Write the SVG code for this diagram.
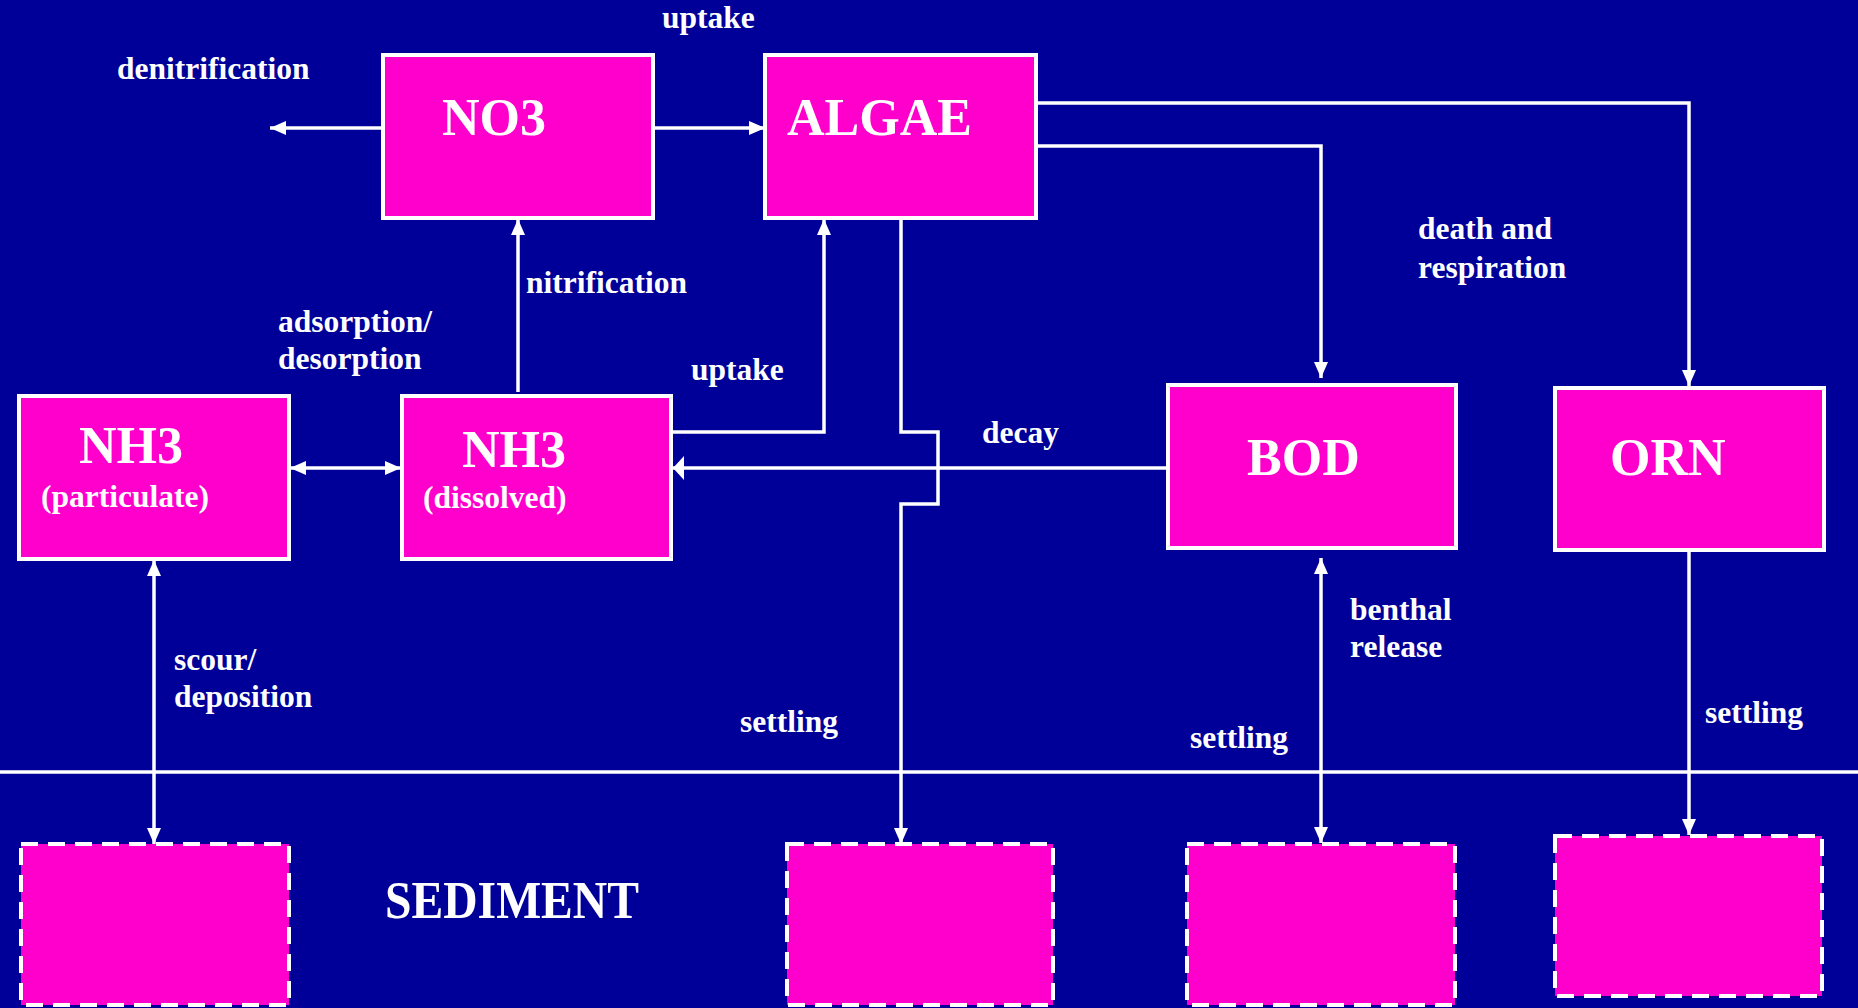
<svg xmlns="http://www.w3.org/2000/svg" width="1858" height="1008" viewBox="0 0 1858 1008">
<style>
.bg{fill:#000099}
.box{fill:#FF00CC;stroke:#FFFFFF;stroke-width:4}
.sed{fill:#FF00CC;stroke:#FFFFFF;stroke-width:4;stroke-dasharray:17 10}
.big{font-family:"Liberation Serif","Times New Roman",serif;font-weight:bold;font-size:52px;fill:#FFFFFF}
.lbl{font-family:"Liberation Serif","Times New Roman",serif;font-weight:bold;font-size:31.5px;fill:#FFFFFF}
.conn{fill:none;stroke:#FFFFFF;stroke-width:3.5}
</style>
<defs>
<marker id="ah" markerUnits="userSpaceOnUse" markerWidth="18" markerHeight="16" refX="16" refY="8" orient="auto-start-reverse" viewBox="0 0 18 16">
<path d="M0,1 L16,8 L0,15 z" fill="#FFFFFF"/>
</marker>
<marker id="ahn" markerUnits="userSpaceOnUse" markerWidth="12" markerHeight="26" refX="11" refY="13" orient="auto" viewBox="0 0 12 26">
<path d="M0,1 L11,13 L0,25 z" fill="#FFFFFF"/>
</marker>
</defs>
<rect class="bg" x="0" y="0" width="1858" height="1008"/>

<g id="connectors">
<line class="conn" x1="0" y1="772" x2="1858" y2="772" stroke-width="4"/>
<line class="conn" x1="383" y1="128" x2="270" y2="128" marker-end="url(#ah)"/>
<line class="conn" x1="653" y1="128" x2="765" y2="128" marker-end="url(#ah)"/>
<line class="conn" x1="518" y1="392" x2="518" y2="219" marker-end="url(#ah)"/>
<path class="conn" d="M671,432 H824 V219" marker-end="url(#ah)"/>
<line class="conn" x1="290" y1="468" x2="401" y2="468" marker-start="url(#ah)" marker-end="url(#ah)"/>
<line class="conn" x1="1168" y1="468" x2="673" y2="468" marker-end="url(#ahn)"/>
<path class="conn" d="M901,218 V432 H938 V504 H901 V844" marker-end="url(#ah)"/>
<path class="conn" d="M1036,146 H1321 V378" marker-end="url(#ah)"/>
<path class="conn" d="M1036,103 H1689 V386" marker-end="url(#ah)"/>
<line class="conn" x1="154" y1="560" x2="154" y2="844" marker-start="url(#ah)" marker-end="url(#ah)"/>
<line class="conn" x1="1321" y1="558" x2="1321" y2="843" marker-start="url(#ah)" marker-end="url(#ah)"/>
<line class="conn" x1="1689" y1="550" x2="1689" y2="835" marker-end="url(#ah)"/>
</g>

<g id="labels">
<text class="lbl" x="662" y="28">uptake</text>
<text class="lbl" x="117" y="79">denitrification</text>
<text class="lbl" x="526" y="293">nitrification</text>
<text class="lbl" x="278" y="332">adsorption/</text>
<text class="lbl" x="278" y="369">desorption</text>
<text class="lbl" x="691" y="380">uptake</text>
<text class="lbl" x="1418" y="239">death and</text>
<text class="lbl" x="1418" y="278">respiration</text>
<text class="lbl" x="982" y="443">decay</text>
<text class="lbl" x="1350" y="620">benthal</text>
<text class="lbl" x="1350" y="657">release</text>
<text class="lbl" x="174" y="670">scour/</text>
<text class="lbl" x="174" y="707">deposition</text>
<text class="lbl" x="740" y="732">settling</text>
<text class="lbl" x="1190" y="748">settling</text>
<text class="lbl" x="1705" y="723">settling</text>
<text class="big" x="385" y="918" font-size="50" textLength="254" lengthAdjust="spacingAndGlyphs">SEDIMENT</text>
</g>

<g id="node-no3">
<rect class="box" x="383" y="55" width="270" height="163"/>
<text class="big" x="442" y="135">NO3</text>
</g>
<g id="node-algae">
<rect class="box" x="765" y="55" width="271" height="163"/>
<text class="big" x="787" y="135">ALGAE</text>
</g>
<g id="node-nh3-particulate">
<rect class="box" x="19" y="396" width="270" height="163"/>
<text class="big" x="79" y="463">NH3</text>
<text class="lbl" x="41" y="507">(particulate)</text>
</g>
<g id="node-nh3-dissolved">
<rect class="box" x="402" y="396" width="269" height="163"/>
<text class="big" x="462" y="467">NH3</text>
<text class="lbl" x="423" y="508">(dissolved)</text>
</g>
<g id="node-bod">
<rect class="box" x="1168" y="385" width="288" height="163"/>
<text class="big" x="1247" y="475">BOD</text>
</g>
<g id="node-orn">
<rect class="box" x="1555" y="388" width="269" height="162"/>
<text class="big" x="1610" y="475">ORN</text>
</g>
<g id="sed-1">
<rect class="sed" x="21" y="844" width="268" height="161"/>
</g>
<g id="sed-2">
<rect class="sed" x="787" y="844" width="266" height="161"/>
</g>
<g id="sed-3">
<rect class="sed" x="1187" y="844" width="268" height="161"/>
</g>
<g id="sed-4">
<rect class="sed" x="1555" y="836" width="267" height="160"/>
</g>
</svg>
